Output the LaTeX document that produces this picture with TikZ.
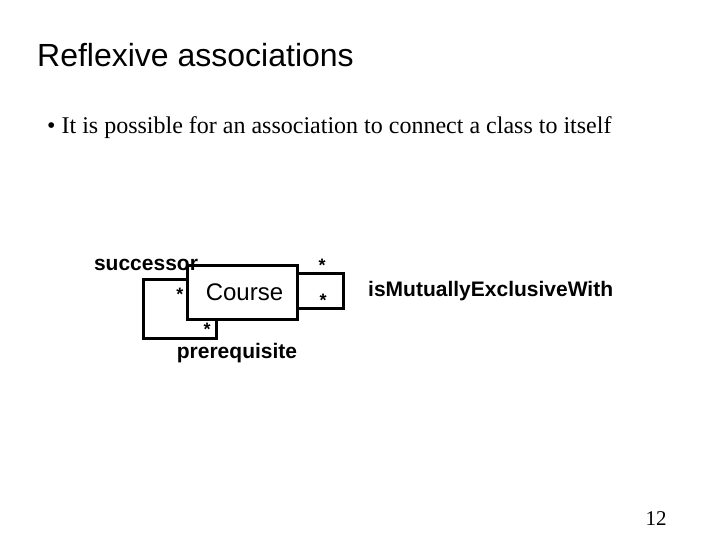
\documentclass[tikz,border=0pt]{standalone}
\usepackage{fontspec}
\setmainfont{Liberation Serif}
\newfontfamily\arial{Liberation Sans}
\begin{document}
\begin{tikzpicture}[x=1pt,y=-1pt,
  lbl/.style={font=\arial\bfseries\fontsize{18}{20}\selectfont, inner sep=0pt},
  big/.style={font=\arial\bfseries\fontsize{21}{22}\selectfont},
  box/.style={draw, line width=3pt},
  ln/.style={line width=3pt}]
\useasboundingbox (0,0) rectangle (720,540);
\node[anchor=west, font=\arial\fontsize{32}{34}\selectfont, inner sep=0pt] (title) at (37,55) {Reflexive associations};
\node[anchor=west, font=\fontsize{24}{26}\selectfont, inner sep=0pt] (bul) at (47,128) {\textbullet\ It is possible for an association to connect a class to itself};
\node[box, minimum width=110pt, minimum height=54pt, inner sep=0pt, font=\arial\fontsize{24}{26}\selectfont] (course) at (242,292) {\hspace*{5pt}Course};
\coordinate (l1) at (143,279);
\coordinate (l2) at (143,338);
\coordinate (l3) at (216,338);
\coordinate (r1) at (343,273);
\coordinate (r2) at (343,308);
\draw[ln] (course.west |- l1) -- (l1) -- (l2) -- (l3) -- (l3 |- course.south);
\draw[ln] (course.east |- r1) -- (r1) -- (r2) -- (course.east |- r2);
\node[lbl, big] (succ) at (146,265) {successor};
\node[lbl] (s1) at (180,294) {*};
\node[lbl] (s2) at (207,329) {*};
\node[lbl, big] (prereq) at (237,353) {prerequisite};
\node[lbl] (s3) at (322,265) {*};
\node[lbl] (s4) at (323,300) {*};
\node[lbl, big, anchor=west] (mut) at (368,291) {isMutuallyExclusiveWith};
\node[font=\fontsize{21}{22}\selectfont, inner sep=0pt] (pg) at (656,519) {12};
\node[font=\fontsize{21}{22}\selectfont, inner sep=0pt] (pg2) at (666,548) {3};
\end{tikzpicture}
\end{document}
